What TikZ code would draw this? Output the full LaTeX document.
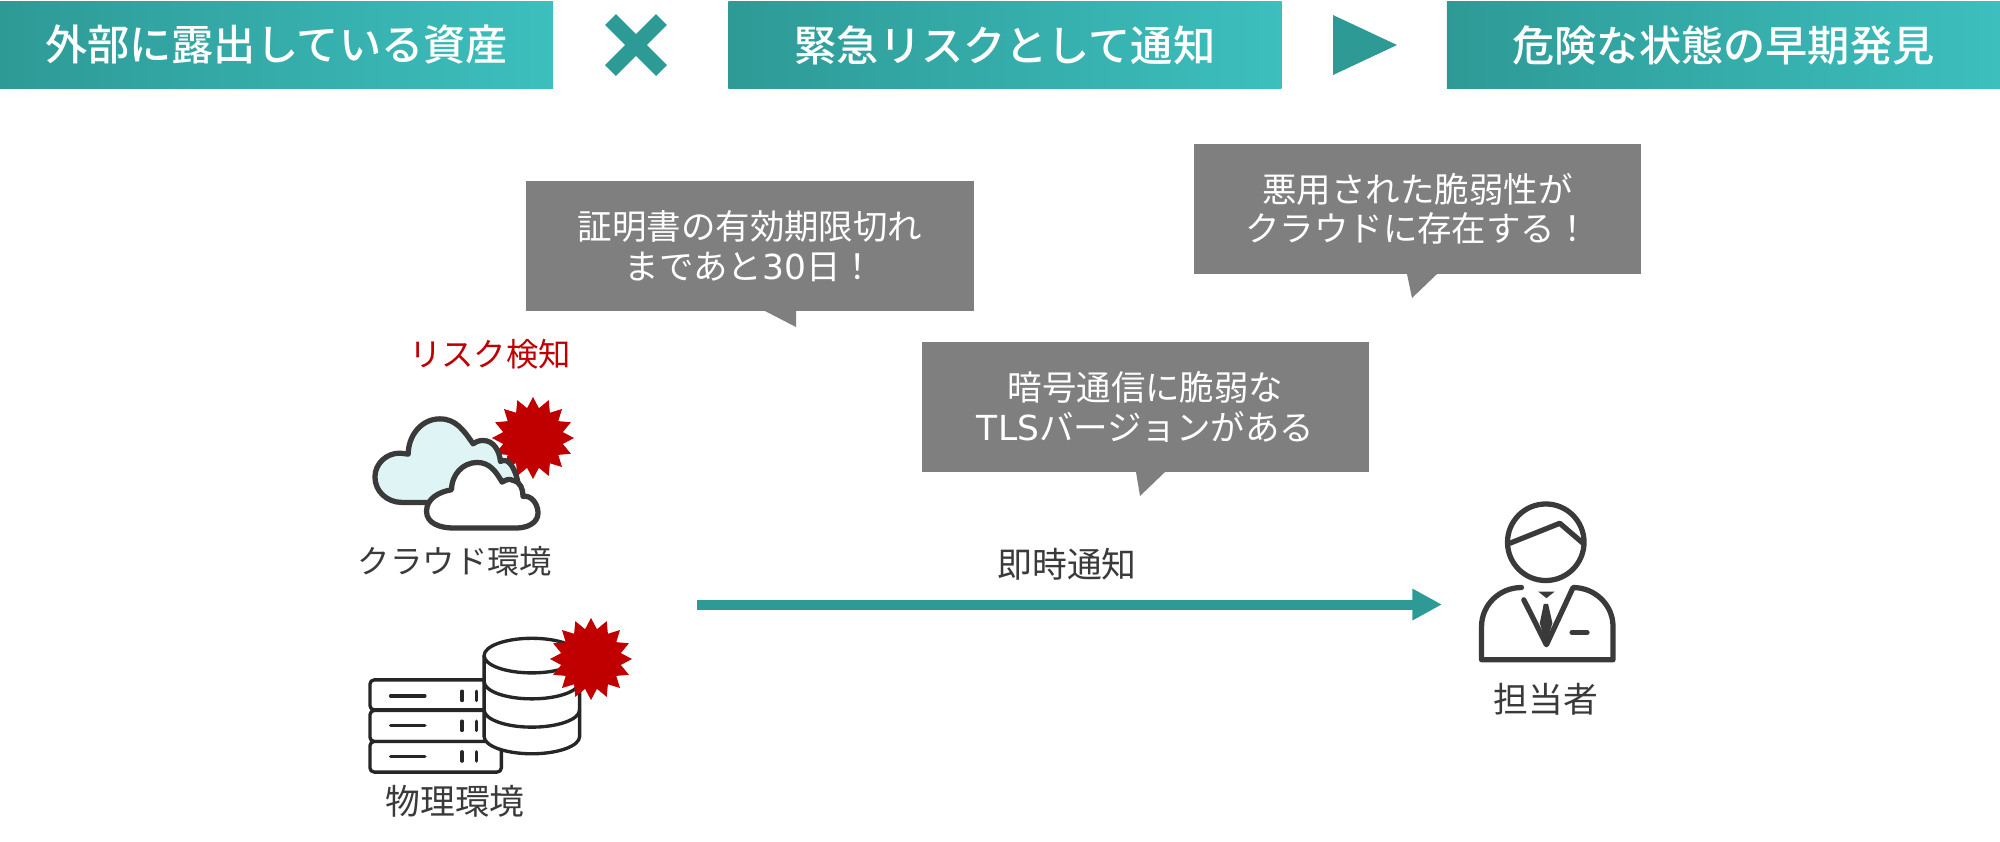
\documentclass[tikz,border=0pt]{standalone}
\usepackage{fontspec}
\usetikzlibrary{shapes.geometric,arrows.meta}
\setmainfont{Noto Sans CJK JP}
\newfontfamily\titlefont{Noto Sans CJK JP Medium}
\newfontfamily\latinfont{DejaVu Sans}

\definecolor{tealdark}{HTML}{2E9A96}
\definecolor{teallight}{HTML}{3CBFBE}
\definecolor{calloutgray}{HTML}{7F7F7F}
\definecolor{icondark}{HTML}{3A3A3A}
\definecolor{riskred}{HTML}{C00000}
\definecolor{cloudfill}{HTML}{DFF5F5}

\tikzset{
  titlebox/.style={left color=tealdark, right color=teallight, text=white, minimum width=5.53cm, minimum height=0.86cm, inner sep=0pt, font=\fontsize{12}{14}\selectfont\titlefont},
  calloutbox/.style={fill=calloutgray, text=white, minimum width=4.47cm, minimum height=1.30cm, inner sep=0pt, align=center, font=\fontsize{9.8}{11.2}\selectfont},
  iconlabel/.style={text=icondark, inner sep=0pt, font=\fontsize{9.9}{11}\selectfont},
  smalllabel/.style={text=icondark, inner sep=0pt, font=\fontsize{9.2}{11}\selectfont},
  burst/.style={star, star points=16, star point ratio=1.35, fill=riskred, minimum size=0.82cm, inner sep=0pt},
  iconline/.style={draw=icondark, line width=1.5pt, line join=round, line cap=round},
  rackline/.style={draw=black!85, line width=0.95pt, line join=round, line cap=round}
}

\begin{document}
\begin{tikzpicture}[x=0.01cm, y=-0.01cm]
  \useasboundingbox (0,0) rectangle (2000,841);

  % Title row
  \node[titlebox] (exposed) at (276.5,45) {外部に露出している資産};
  \node[titlebox] (urgent) at (1005,45) {緊急リスクとして通知};
  \node[titlebox] (early) at (1723.5,45) {危険な状態の早期発見};

  \draw[tealdark, line width=4.4pt] (610.5,19.5) -- (661.5,70.5);
  \draw[tealdark, line width=4.4pt] (661.5,19.5) -- (610.5,70.5);
  \fill[tealdark] (1333,15) -- (1397,45) -- (1333,75) -- cycle;

  % Callouts
  \fill[calloutgray] (765,305) -- (796,305) -- (796,327) -- (765,311) -- cycle;
  \fill[calloutgray] (1407,268) -- (1437,268) -- (1437,274) -- (1412,298) -- (1407,274) -- cycle;
  \fill[calloutgray] (1136,466) -- (1165,466) -- (1165,472) -- (1140,496) -- (1136,472) -- cycle;
  \node[calloutbox] (certbox) at (750,246) {証明書の有効期限切れ\\まであと{\latinfont 30}日！};
  \node[calloutbox] (exploitbox) at (1417.5,209) {悪用された脆弱性が\\クラウドに存在する！};
  \node[calloutbox] (tlsbox) at (1145.5,407) {暗号通信に脆弱な\\{\latinfont TLS}バージョンがある};

  % Cloud
  \node[smalllabel, text=riskred] (detected) at (490,354) {リスク検知};
  \node[burst] (cloudburst) at (533,438) {};
  \begin{scope}[shift={(340,320)}, x=0.00333cm, y=-0.00333cm]
    \draw[iconline, fill=cloudfill] (185,548) to[out=180,in=270] (105,472) to[out=90,in=180] (180,400) to[out=0,in=180] (205,403) to[out=90,in=180] (300,297) to[out=0,in=125] (400,372) to[out=35,in=180] (430,362) to[out=0,in=95] (482,425) to[out=30,in=100] (535,490) -- (535,548) -- cycle;
    \draw[iconline, fill=white] (340,625) to[out=180,in=270] (260,575) to[out=90,in=190] (335,510) to[out=90,in=180] (412,428) to[out=0,in=120] (487,487) to[out=30,in=150] (520,482) to[out=-10,in=90] (550,530) to[out=10,in=90] (595,580) to[out=270,in=0] (530,625) -- cycle;
  \end{scope}
  \node[smalllabel] (cloudlabel) at (455,561) {クラウド環境};

  % Servers
  \begin{scope}[shift={(340,600)}, x=0.00333cm, y=-0.00333cm]
    \draw[rackline, fill=white, rounded corners=1.2pt] (90,240) rectangle (485,330);
    \draw[rackline, fill=white, rounded corners=1.2pt] (90,332) rectangle (485,425);
    \draw[rackline, fill=white, rounded corners=1.2pt] (90,425) rectangle (485,517);
    \foreach \rowy in {288,378,470} {
      \draw[rackline] (152,\rowy) -- (255,\rowy);
      \draw[rackline] (367,\rowy-14) -- (367,\rowy+14);
      \draw[rackline] (411,\rowy-14) -- (411,\rowy+14);
    }
    \draw[rackline, fill=white] (433,167) -- (433,410) arc[start angle=180, end angle=360, x radius=143.5, y radius=-52] -- (720,167) arc[start angle=0, end angle=180, x radius=143.5, y radius=-52] -- cycle;
    \draw[rackline] (433,167) arc[start angle=180, end angle=360, x radius=143.5, y radius=-52];
    \draw[rackline] (433,245) arc[start angle=180, end angle=360, x radius=143.5, y radius=-52];
    \draw[rackline] (433,330) arc[start angle=180, end angle=360, x radius=143.5, y radius=-52];
  \end{scope}
  \node[burst] (serverburst) at (591,659) {};
  \node[iconlabel] (serverlabel) at (455,801) {物理環境};

  % Person
  \begin{scope}[shift={(1400,480)}, x=0.00333cm, y=-0.00333cm]
    \draw[iconline] (438,187) circle (115);
    \draw[iconline] (330,190) -- (480,130) -- (550,190);
    \draw[iconline] (365,323) to[out=180,in=90] (245,440) -- (245,540) -- (640,540) -- (640,440) to[out=90,in=0] (520,323) -- (440,495) -- (372,360);
    \fill[icondark] (415,335) -- (465,335) -- (440,355) -- cycle;
    \fill[icondark] (432,372) -- (445,372) -- (458,430) -- (439,492) -- (420,430) -- cycle;
    \draw[iconline] (517,458) -- (562,458);
  \end{scope}
  \node[iconlabel] (personlabel) at (1546,699) {担当者};

  % Notification arrow
  \coordinate (notifystart) at (697,604.5);
  \coordinate (notifyend) at (1442,604.5);
  \node[iconlabel] (notifylabel) at (1067,564) {即時通知};
  \draw[-{Triangle[length=8.4pt,width=8.4pt]}, tealdark, line width=2.85pt] (notifystart) -- (notifyend);
\end{tikzpicture}
\end{document}
